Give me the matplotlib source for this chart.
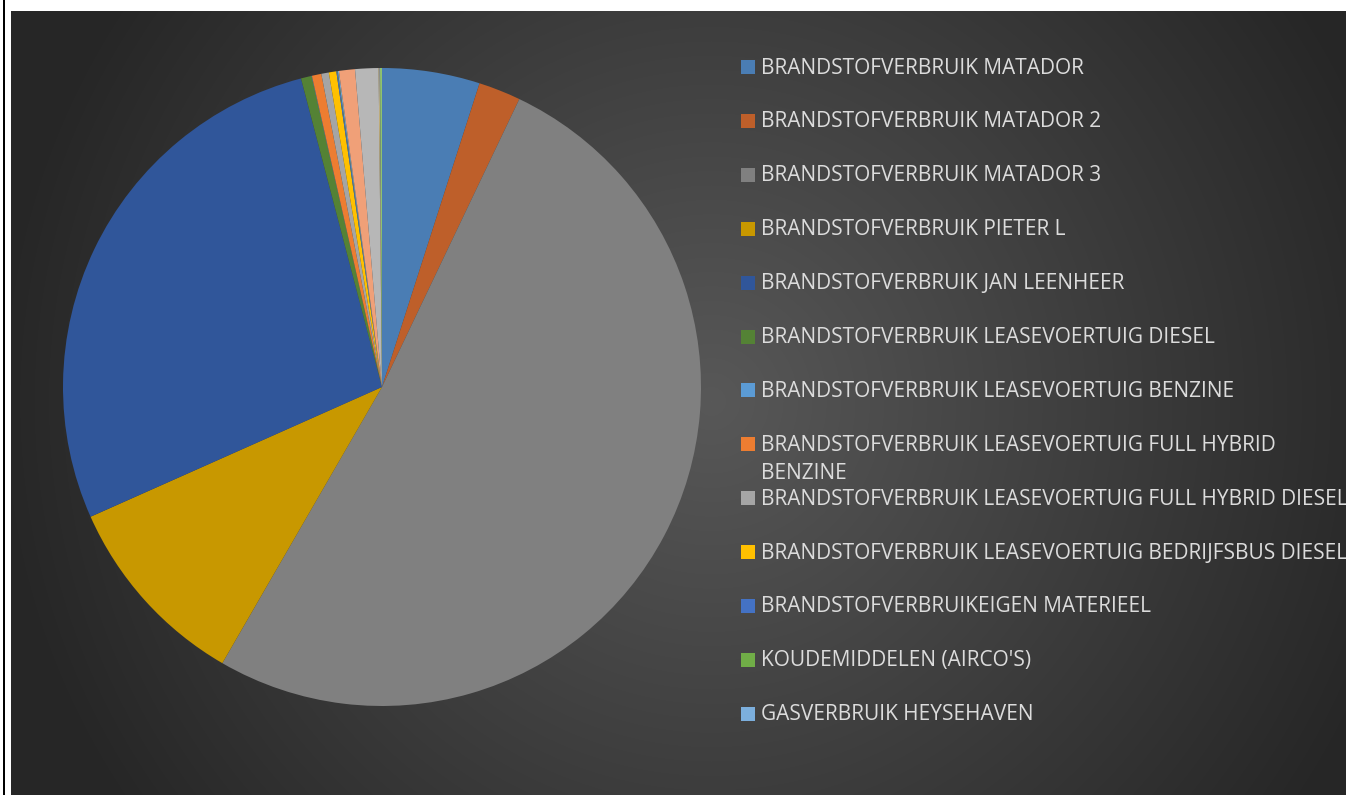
import numpy as np
import matplotlib.pyplot as plt
from matplotlib.patches import Rectangle

plt.rcParams['font.family'] = ['Open Sans', 'DejaVu Sans']

# legend entries that fit in the chart (Excel truncates the rest)
labels = [
    'BRANDSTOFVERBRUIK MATADOR',
    'BRANDSTOFVERBRUIK MATADOR 2',
    'BRANDSTOFVERBRUIK MATADOR 3',
    'BRANDSTOFVERBRUIK PIETER L',
    'BRANDSTOFVERBRUIK JAN LEENHEER',
    'BRANDSTOFVERBRUIK LEASEVOERTUIG DIESEL',
    'BRANDSTOFVERBRUIK LEASEVOERTUIG BENZINE',
    'BRANDSTOFVERBRUIK LEASEVOERTUIG FULL HYBRID\nBENZINE',
    'BRANDSTOFVERBRUIK LEASEVOERTUIG FULL HYBRID DIESEL',
    'BRANDSTOFVERBRUIK LEASEVOERTUIG BEDRIJFSBUS DIESEL',
    'BRANDSTOFVERBRUIKEIGEN MATERIEEL',
    "KOUDEMIDDELEN (AIRCO'S)",
    'GASVERBRUIK HEYSEHAVEN',
]
# shares in percent
values = [4.95, 2.14, 51.3, 10.0, 27.6, 0.54, 0.02, 0.48, 0.38, 0.38, 0.06, 0.02, 0.05]
# series past the legend cut-off
hidden_values = [0.81, 1.18, 0.05, 0.02, 0.10]

colors = ['#4A7DB4', '#BE5F2A', '#808080', '#C89800', '#30569A', '#548235',
          '#5B9BD5', '#ED7D31', '#A5A5A5', '#FFC000', '#4472C4', '#70AD47',
          '#7CAFDD', '#F0A078', '#B7B7B7', '#D8C080', '#698ED0', '#8FC26F']

W, H = 1346, 795
fig = plt.figure(figsize=(W / 100, H / 100), dpi=100, facecolor='white')

# dark chart area with radial gradient
bx0, by0 = 11, 11
bg = fig.add_axes([bx0 / W, 0, 1 - bx0 / W, 1 - by0 / H])
bw, bh = W - bx0, H - by0
yy, xx = np.mgrid[0:bh, 0:bw]
d = np.sqrt((xx - 700) ** 2 + (yy - 390) ** 2) / 720
d = np.clip(d, 0, 1)
c_in, c_out = np.array([0x58, 0x58, 0x58]) / 255, np.array([0x26, 0x26, 0x26]) / 255
img = c_in[None, None, :] * (1 - d[..., None]) + c_out[None, None, :] * d[..., None]
bg.imshow(img, aspect='auto', interpolation='bilinear')
bg.axis('off')

# left border line
fig.add_artist(Rectangle((3 / W, 0), 2 / W, 1, transform=fig.transFigure,
                         color='black', lw=0))

# pie
cx, cy, r = 382, H - 387, 319
ax = fig.add_axes([(cx - r) / W, (cy - r) / H, 2 * r / W, 2 * r / H])
ax.set_facecolor('none')
wedges, _ = ax.pie(values + hidden_values, colors=colors, startangle=90,
                   counterclock=False, radius=1,
                   wedgeprops=dict(linewidth=0))
ax.set_xlim(-1, 1)
ax.set_ylim(-1, 1)
ax.set_aspect('equal')

# legend, drawn as Excel lays it out
for i, lab in enumerate(labels):
    y = 67 + i * 53.9
    fig.add_artist(Rectangle((741 / W, 1 - (y + 7) / H), 14 / W, 14 / H,
                             transform=fig.transFigure, color=colors[i], lw=0))
    for k, line in enumerate(lab.split('\n')):
        fig.text(761 / W, 1 - (y + 28 * k + 1) / H, line, fontsize=15,
                 color='#DCDCDC', ha='left', va='center')

fig.savefig('out.png', dpi=100, facecolor='white')
